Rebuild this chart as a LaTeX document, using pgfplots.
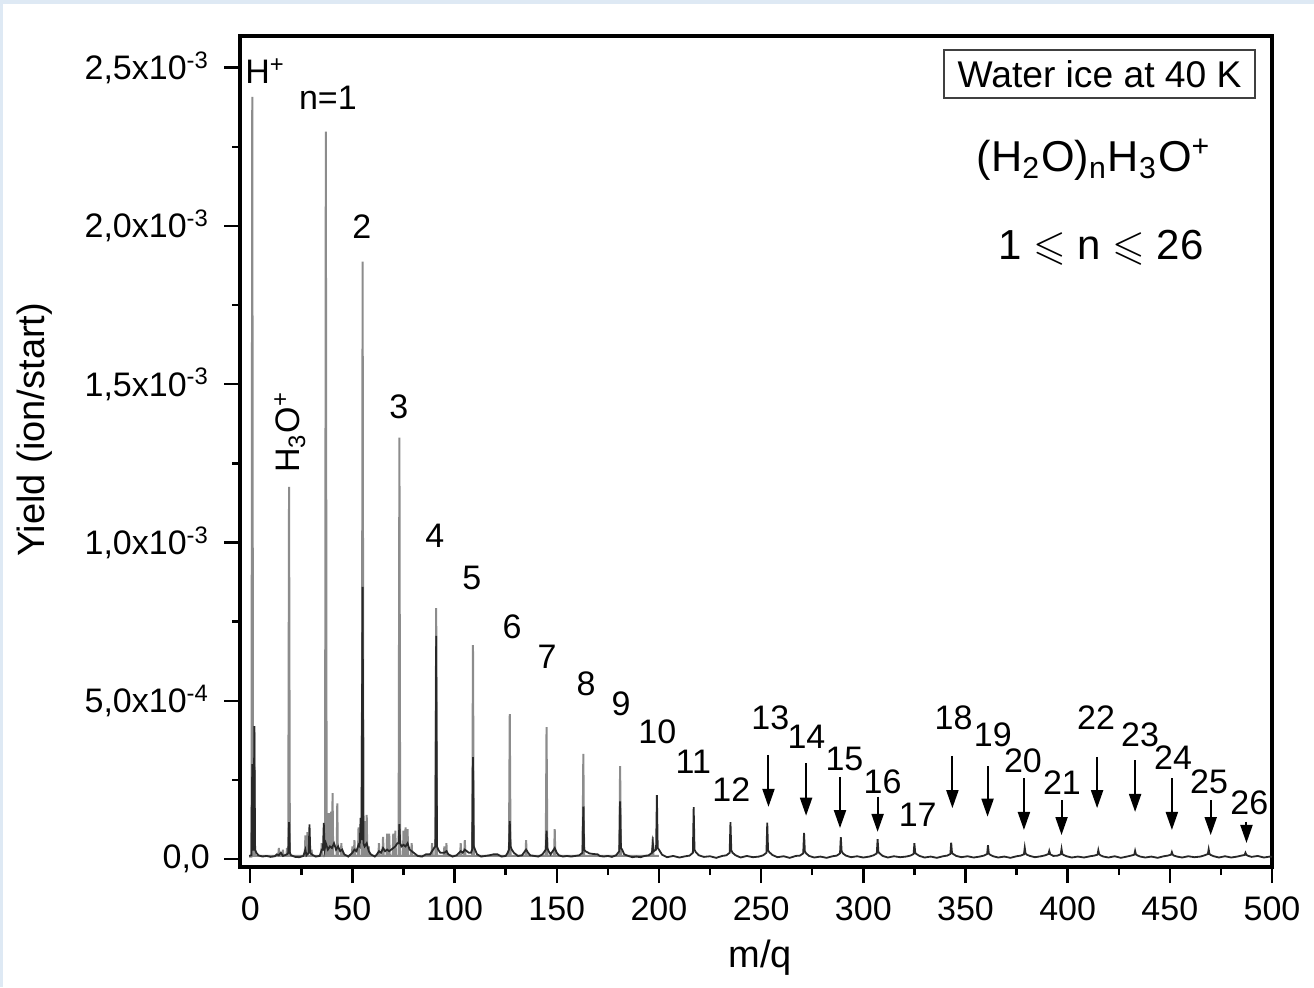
\documentclass[border=0pt]{standalone}
\usepackage{amssymb}
\usepackage{fontspec}
\setmainfont{Liberation Sans}
\usepackage{pgfplots}
\pgfplotsset{compat=1.18}
\usetikzlibrary{arrows.meta}
\definecolor{specgray}{RGB}{140,140,140}
\definecolor{specdark}{RGB}{40,40,40}
\definecolor{edgeblue}{RGB}{222,233,244}
\newcommand\lbl{\fontsize{8.5}{10}\selectfont}

\begin{document}
\begin{tikzpicture}
% 1 px of the reference = 0.25pt
\useasboundingbox (0,0) rectangle (328.5pt,246.75pt);
\fill[edgeblue] (0,0) rectangle (328.5pt,246.75pt);
\fill[white] (0.75pt,0) rectangle (328.5pt,245.75pt);
\begin{axis}[
  at={(60pt,30pt)}, anchor=south west,
  scale only axis, width=258pt, height=207.75pt,
  xmin=-5, xmax=500, ymin=-0.025, ymax=2.6,
  axis line style={black, line width=0.8pt},
  tick style={black, line width=0.6pt},
  tick align=outside, xtick pos=bottom, ytick pos=left,
  major tick length=4pt, minor tick length=2pt,
  xtick={0,50,...,500}, minor x tick num=1,
  ytick={0,0.5,1,1.5,2,2.5}, minor y tick num=1,
  yticklabels={{0,0},{5,0x10\textsuperscript{-4}},{1,0x10\textsuperscript{-3}},{1,5x10\textsuperscript{-3}},{2,0x10\textsuperscript{-3}},{2,5x10\textsuperscript{-3}}},
  /pgf/number format/assume math mode=true,
  tick label style={font=\lbl},
  xlabel={m/q}, ylabel={Yield (ion/start)},
  label style={font=\fontsize{9.5}{11}\selectfont},
  xlabel style={at={(axis description cs:0.504,-0.1215)}, anchor=base},
  ylabel style={at={(axis description cs:-0.199,0.526)}, anchor=center, rotate=0},
  clip mode=individual,
]
% gray trace: tall cluster peaks and the fragment lines below m/q 200
\addplot[specgray, line width=0.5pt] coordinates {
(-0.5,0.008)(0.6,0.008)(1,2.408)(1.4,0.01)(1.7,0.01)(2,0.42)(2.3,0.01)
(13.7,0.01)(14,0.035)(14.3,0.01)(15.7,0.01)(16,0.03)(16.3,0.01)(17.7,0.01)(18,0.035)(18.3,0.01)
(18.6,0.01)(19,1.176)(19.4,0.01)
(26.7,0.01)(27,0.075)(27.3,0.01)(27.7,0.01)(28,0.085)(28.3,0.01)(29.7,0.01)(30,0.03)(30.3,0.01)
(34.7,0.01)(35,0.05)(35.3,0.01)
(36.6,0.01)(37,2.298)(37.4,0.01)
(38.2,0.01)(38.5,0.145)(38.8,0.01)(39.3,0.01)(39.6,0.15)(39.9,0.01)(40,0.01)(40.3,0.208)(40.6,0.01)
(42.3,0.01)(42.6,0.176)(42.9,0.01)(44.3,0.01)(44.6,0.05)(44.9,0.01)
(49.7,0.01)(50,0.04)(50.3,0.01)(50.7,0.01)(51,0.06)(51.3,0.01)(52.7,0.01)(53,0.1)(53.3,0.01)
(54.6,0.01)(55,1.887)(55.4,0.01)
(55.7,0.01)(56,0.12)(56.3,0.01)(56.7,0.01)(57,0.14)(57.3,0.01)(57.7,0.01)(58,0.04)(58.3,0.01)
(62.7,0.01)(63,0.05)(63.3,0.01)(64.7,0.01)(65,0.07)(65.3,0.01)(66.7,0.01)(67,0.08)(67.3,0.01)
(67.7,0.01)(68,0.08)(68.3,0.01)(69.7,0.01)(70,0.08)(70.3,0.01)(70.7,0.01)(71,0.09)(71.3,0.01)
(72.6,0.01)(73,1.331)(73.4,0.01)
(74.7,0.01)(75,0.09)(75.3,0.01)(75.7,0.01)(76,0.1)(76.3,0.01)(76.7,0.01)(77,0.095)(77.3,0.01)
(78.7,0.01)(79,0.05)(79.3,0.01)
(88.7,0.01)(89,0.05)(89.3,0.01)
(90.6,0.01)(91,0.793)(91.4,0.01)
(94.7,0.01)(95,0.04)(95.3,0.01)(95.7,0.01)(96,0.05)(96.3,0.01)
(102.7,0.01)(103,0.05)(103.3,0.01)(104.7,0.01)(105,0.06)(105.3,0.01)
(108.6,0.01)(109,0.676)(109.4,0.01)
(126.6,0.01)(127,0.458)(127.4,0.01)
(134.7,0.01)(135,0.06)(135.3,0.01)
(144.6,0.01)(145,0.417)(145.4,0.01)
(148.7,0.01)(149,0.095)(149.3,0.01)
(162.6,0.01)(163,0.332)(163.4,0.01)(180.6,0.01)(181,0.294)(181.4,0.01)
(196.7,0.01)(197,0.07)(197.3,0.01)(200,0.01)
};
% dark trace: baseline and the weaker series
\addplot[specdark, line width=0.45pt] coordinates {
(-0.5,0.01)(0.6,0.012)(1,0.3)(1.4,0.03)(1.7,0.03)(2,0.42)(2.4,0.03)(3,0.02)(4,0.012)(6,0.008)
(8,0.01)(10,0.007)(12,0.009)(13,0.015)(14,0.012)(15,0.02)(16,0.01)(18,0.015)(18.6,0.02)(19,0.117)
(19.4,0.02)(20,0.012)(22,0.007)(24,0.006)(26,0.01)(27,0.03)(27.5,0.012)(28.6,0.02)(29,0.11)
(29.4,0.02)(30,0.015)(32,0.008)(34,0.01)(35,0.03)(35.6,0.03)(36,0.114)(36.4,0.03)(37,0.05)
(38,0.03)(39,0.04)(40,0.035)(41,0.05)(42,0.03)(43,0.04)(44,0.025)(45,0.03)(46,0.015)(48,0.008)
(50,0.02)(51,0.03)(52,0.025)(53,0.045)(53.6,0.04)(54,0.13)(54.4,0.06)(55,0.86)(55.4,0.05)
(56,0.04)(57,0.05)(58,0.025)(59,0.015)(61,0.008)(62,0.015)(63,0.025)(64,0.02)(65,0.035)
(66,0.025)(67,0.03)(68,0.025)(69,0.03)(70,0.035)(71,0.04)(72,0.05)(72.6,0.05)(73,0.11)
(73.4,0.05)(74,0.04)(75,0.045)(76,0.04)(77,0.05)(78,0.03)(79,0.025)(80,0.02)(82,0.01)(84,0.008)
(86,0.015)(88,0.015)(89,0.025)(90,0.035)(90.6,0.04)(91,0.705)(91.4,0.04)(92,0.03)(93,0.02)
(95,0.02)(96,0.025)(97,0.015)(99,0.008)(101,0.012)(103,0.025)(104,0.02)(105,0.03)(106,0.025)
(107,0.02)(108,0.02)(108.6,0.03)(109,0.322)(109.4,0.04)(110,0.03)(111,0.015)(113,0.008)
(115,0.01)(117,0.012)(119,0.015)(121,0.015)(123,0.008)(125,0.01)(126,0.02)(126.6,0.03)
(127,0.12)(127.4,0.04)(128,0.03)(129,0.02)(131,0.01)(133,0.012)(135,0.03)(136,0.02)(137,0.012)
(139,0.01)(141,0.008)(143,0.015)(144.6,0.03)(145,0.09)(145.4,0.035)(146,0.025)(147,0.015)
(149,0.035)(150,0.02)(151,0.012)(153,0.008)(155,0.01)(157,0.008)(159,0.01)(161,0.012)
(162.6,0.02)(163,0.166)(163.4,0.03)(164,0.025)(166,0.018)(168,0.016)(170,0.015)(171,0.01)
(173,0.008)(175,0.01)(177,0.007)(179,0.012)(180.6,0.025)(181,0.182)(181.4,0.035)(182,0.03)
(183,0.015)(185,0.01)(187,0.006)(189,0.008)(191,0.006)(193,0.01)(195,0.012)(196.6,0.02)
(197,0.05)(197.5,0.025)(198.6,0.03)(199,0.202)
(199.4,0.035)(200,0.03)(201.5,0.014)(204,0.006)(207,0.01)(210,0.005)(213,0.009)(215,0.011)(216.6,0.02)(217,0.164)
(217.4,0.03)(218,0.022)(219.5,0.012)(222,0.007)(225,0.009)(228,0.004)(231,0.01)(233,0.012)(234.6,0.02)(235,0.117)
(235.4,0.028)(236,0.02)(237.5,0.012)(240,0.005)(243,0.01)(246,0.006)(249,0.008)(251,0.012)(252.6,0.02)(253,0.115)
(253.4,0.028)(254,0.022)(255.5,0.013)(258,0.006)(261,0.009)(264,0.004)(267,0.01)(269,0.011)(270.6,0.018)(271,0.083)
(271.4,0.025)(272,0.018)(273.5,0.01)(276,0.005)(279,0.008)(282,0.004)(285,0.009)(287,0.011)(288.6,0.018)(289,0.069)
(289.4,0.025)(290,0.018)(291.5,0.011)(294,0.006)(297,0.009)(300,0.005)(303,0.008)(305,0.012)(306.6,0.018)(307,0.063)
(307.4,0.022)(308,0.018)(309.5,0.01)(312,0.005)(315,0.009)(318,0.006)(321,0.008)(323,0.011)(324.6,0.016)(325,0.050)
(325.4,0.02)(326,0.016)(327.5,0.01)(330,0.005)(333,0.008)(336,0.004)(339,0.009)(341,0.011)(342.6,0.016)(343,0.052)
(343.4,0.02)(344,0.016)(345.5,0.01)(348,0.006)(351,0.009)(354,0.005)(357,0.008)(359,0.011)(360.6,0.016)(361,0.044)
(361.4,0.018)(362,0.014)(363.5,0.009)(366,0.005)(369,0.008)(372,0.004)(375,0.009)(377,0.011)(378.6,0.015)(379,0.036)
(379.4,0.018)(380,0.014)(381.5,0.01)(384,0.006)(387,0.009)(389,0.012)(390.6,0.016)(391,0.026)(391.5,0.015)(393,0.01)(395,0.011)(396.6,0.015)(397,0.032)
(397.4,0.016)(398,0.013)(399.5,0.009)(402,0.005)(405,0.008)(408,0.005)(411,0.009)(413,0.011)(414.6,0.014)(415,0.028)
(415.4,0.016)(416,0.012)(417.5,0.008)(420,0.005)(423,0.009)(426,0.004)(429,0.008)(431,0.011)(432.6,0.014)(433,0.026)
(433.4,0.015)(434,0.012)(435.5,0.008)(438,0.005)(441,0.008)(444,0.004)(447,0.009)(449,0.011)(450.6,0.014)(451,0.022)
(451.4,0.014)(452,0.011)(453.5,0.008)(456,0.005)(459,0.009)(462,0.006)(465,0.008)(467,0.012)(468.6,0.016)(469,0.031)
(469.4,0.016)(470,0.013)(471.5,0.009)(474,0.005)(477,0.009)(480,0.005)(483,0.008)(485,0.011)(486.6,0.013)(487,0.020)
(487.4,0.014)(488,0.011)(490,0.007)(493,0.01)(496,0.005)(499,0.008)(500,0.007)
};
% peak labels
\begin{scope}[every node/.style={font=\lbl, inner sep=0pt}]
\node[anchor=west] at (axis cs:-2.8,2.49) {H\textsuperscript{+}};
\node at (axis cs:38,2.405) {n=1};
\node at (axis cs:54.6,1.997) {2};
\node[rotate=90] at (axis cs:19.4,1.35) {H\textsubscript{3}O\textsuperscript{+}};
\node at (axis cs:72.7,1.429) {3};
\node at (axis cs:90.3,1.021) {4};
\node at (axis cs:108.5,0.888) {5};
\node at (axis cs:128.1,0.733) {6};
\node at (axis cs:145.2,0.638) {7};
\node at (axis cs:164.4,0.553) {8};
\node at (axis cs:181.5,0.49) {9};
\node at (axis cs:199.2,0.401) {10};
\node at (axis cs:216.8,0.307) {11};
\node at (axis cs:235.4,0.218) {12};
\node at (axis cs:254.5,0.446) {13};
\node at (axis cs:272.2,0.386) {14};
\node at (axis cs:290.8,0.316) {15};
\node at (axis cs:309.4,0.243) {16};
\node at (axis cs:326.6,0.139) {17};
\node at (axis cs:344.2,0.446) {18};
\node at (axis cs:363.4,0.392) {19};
\node at (axis cs:378.1,0.310) {20};
\node at (axis cs:397.2,0.243) {21};
\node at (axis cs:413.9,0.446) {22};
\node at (axis cs:435.4,0.392) {23};
\node at (axis cs:451.6,0.319) {24};
\node at (axis cs:469.2,0.243) {25};
\node at (axis cs:488.9,0.177) {26};
\end{scope}
% arrows to the weak clusters
\begin{scope}[black, line width=0.5pt, -{Triangle[length=4.5pt,width=3pt]}]
\draw (axis cs:253.6,0.329) -- (axis cs:253.6,0.165);
\draw (axis cs:272,0.303) -- (axis cs:272,0.137);
\draw (axis cs:288.6,0.260) -- (axis cs:288.6,0.098);
\draw (axis cs:307,0.197) -- (axis cs:307,0.086);
\draw (axis cs:343.6,0.326) -- (axis cs:343.6,0.161);
\draw (axis cs:360.8,0.294) -- (axis cs:360.8,0.134);
\draw (axis cs:378.6,0.256) -- (axis cs:378.6,0.092);
\draw (axis cs:397,0.186) -- (axis cs:397,0.076);
\draw (axis cs:414.4,0.323) -- (axis cs:414.4,0.161);
\draw (axis cs:433,0.313) -- (axis cs:433,0.149);
\draw (axis cs:451,0.256) -- (axis cs:451,0.092);
\draw (axis cs:470,0.186) -- (axis cs:470,0.076);
\draw (axis cs:487.5,0.118) -- (axis cs:487.5,0.051);
\end{scope}
% annotations upper right
\node[draw=black!75, line width=0.4pt, minimum width=77.75pt, minimum height=12pt, inner sep=0pt,
  font=\fontsize{9.3}{11}\selectfont] at (axis cs:415.6,2.48) {Water ice at 40 K};
\node[font=\fontsize{10.8}{13}\selectfont] at (axis cs:412.9,2.209)
  {(H\textsubscript{2}O)\textsubscript{n}H\textsubscript{3}O\textsuperscript{+}};
\node[font=\fontsize{10.5}{12}\selectfont] at (axis cs:416.3,1.931)
  {1 $\leqslant$ n $\leqslant$ 26};
\end{axis}
\end{tikzpicture}
\end{document}
